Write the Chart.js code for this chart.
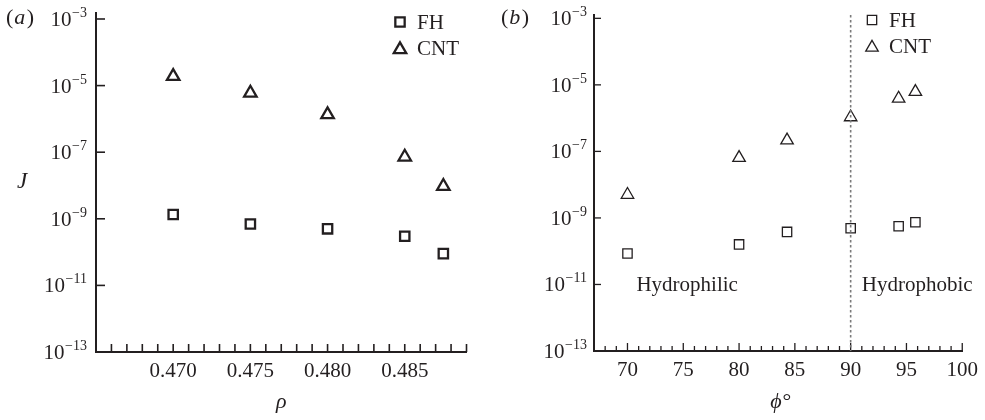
<!DOCTYPE html>
<html>
<head>
<meta charset="utf-8">
<script src="https://cdn.jsdelivr.net/npm/chart.js@4.4.0/dist/chart.umd.min.js"></script>
<style>
html,body{margin:0;padding:0;background:#ffffff;}
#wrap{position:relative;width:985px;height:420px;overflow:hidden;}
#ca{position:absolute;left:0;top:0;}
#cb{position:absolute;left:490px;top:0;}
</style>
</head>
<body>
<div id="wrap">
<canvas id="ca" width="490" height="420"></canvas>
<canvas id="cb" width="495" height="420"></canvas>
</div>
<script>
// ---------- data ----------
const seriesLabels = ['FH', 'CNT'];
// panel (a): J versus rho
const rhoValues = [0.470, 0.475, 0.480, 0.485, 0.4875];
const fhByRho   = [1.35e-9, 7.0e-10, 5.0e-10, 3.0e-10, 9.0e-11];
const cntByRho  = [1.9e-5, 6.0e-6, 1.35e-6, 7.2e-8, 9.5e-9];
const rhoTickLabels = [0.470, 0.475, 0.480, 0.485];
// panel (b): J versus phi (degrees)
const phiValues = [70, 80, 84.3, 90, 94.3, 95.8];
const fhByPhi   = [8.5e-11, 1.6e-10, 3.8e-10, 4.9e-10, 5.6e-10, 7.4e-10];
const cntByPhi  = [5.0e-9, 6.4e-8, 2.15e-7, 1.07e-6, 3.9e-6, 6.2e-6];
const phiTickLabels = [70, 75, 80, 85, 90, 95, 100];
const phiBoundary = 90;
const yTickExponents = [-3, -5, -7, -9, -11, -13];
const regionLabels = ['Hydrophilic', 'Hydrophobic'];

// ---------- style ----------
const SERIF = '"Liberation Serif", "Times New Roman", Times, serif';
const INK = '#231f20';

function toPoints(xs, ys) { return xs.map((x, i) => ({x: x, y: ys[i]})); }

function markerPath(ctx, style, x, y, r) {
  ctx.beginPath();
  if (style === 'rect') {
    const s = Math.SQRT1_2 * r;
    ctx.rect(x - s, y - s, 2 * s, 2 * s);
  } else {
    ctx.moveTo(x, y - r);
    ctx.lineTo(x + r * Math.sin(2 * Math.PI / 3), y - r * Math.cos(2 * Math.PI / 3));
    ctx.lineTo(x + r * Math.sin(4 * Math.PI / 3), y - r * Math.cos(4 * Math.PI / 3));
    ctx.closePath();
  }
}

const panelPlugin = {
  id: 'panel',
  afterDraw(chart, args, o) {
    const ctx = chart.ctx;
    const ca = chart.chartArea;
    const x = chart.scales.x, y = chart.scales.y;
    ctx.save();
    ctx.strokeStyle = INK;
    ctx.fillStyle = INK;
    ctx.lineWidth = o.tickWidth;
    // y decade ticks (inward) + labels 10^e
    yTickExponents.forEach(e => {
      const py = y.getPixelForValue(Math.pow(10, e));
      if (py > ca.top - 1 && py < ca.bottom - 1) {
        ctx.beginPath();
        ctx.moveTo(ca.left, py);
        ctx.lineTo(ca.left + o.yTickLen, py);
        ctx.stroke();
      }
      const expStr = '\u2212' + Math.abs(e);
      ctx.textAlign = 'right';
      ctx.textBaseline = 'alphabetic';
      ctx.font = '14px ' + SERIF;
      const ew = ctx.measureText(expStr).width;
      ctx.fillText(expStr, o.labelRight, py - 2);
      ctx.font = '21px ' + SERIF;
      ctx.fillText('10', o.labelRight - ew - 0.5, py + 7);
    });
    // x ticks (inward)
    for (let v = o.xTickStart; v <= o.xTickEnd + o.xTickStep / 2; v += o.xTickStep) {
      const px = x.getPixelForValue(v);
      const isMajor = o.xMajor.some(m => Math.abs(m - v) < o.xTickStep / 10);
      const len = isMajor ? o.xMajorLen : o.xMinorLen;
      ctx.beginPath();
      ctx.moveTo(px, ca.bottom);
      ctx.lineTo(px, ca.bottom - len);
      ctx.stroke();
    }
    // boundary line
    if (o.boundary !== undefined) {
      const bx = x.getPixelForValue(o.boundary);
      ctx.save();
      ctx.strokeStyle = '#7a7a7a';
      ctx.lineWidth = 1.6;
      ctx.setLineDash([2.5, 2.5]);
      ctx.beginPath();
      ctx.moveTo(bx, ca.top);
      ctx.lineTo(bx, ca.bottom);
      ctx.stroke();
      ctx.restore();
    }
    // legend
    chart.data.datasets.forEach((ds, i) => {
      const ly = o.legendY + i * o.legendGap;
      ctx.lineWidth = ds.borderWidth;
      markerPath(ctx, ds.pointStyle, o.legendX, ly + (ds.pointStyle === 'triangle' ? 1.5 : 0), ds.pointRadius);
      ctx.stroke();
      ctx.font = '21px ' + SERIF;
      ctx.textAlign = 'left';
      ctx.textBaseline = 'alphabetic';
      ctx.fillText(ds.label, o.legendX + 17, ly + 7);
    });
    // panel tag "(a)" / "(b)"
    ctx.textAlign = 'left';
    ctx.textBaseline = 'alphabetic';
    ctx.font = '22px ' + SERIF;
    let tx = o.tagX;
    ctx.fillText('(', tx, o.tagY); tx += ctx.measureText('(').width + 1;
    ctx.font = 'italic 22px ' + SERIF;
    ctx.fillText(o.tag, tx, o.tagY); tx += ctx.measureText(o.tag).width + 1.5;
    ctx.font = '22px ' + SERIF;
    ctx.fillText(')', tx, o.tagY);
    // axis titles
    if (o.yTitle) {
      ctx.font = 'italic 23px ' + SERIF;
      ctx.textAlign = 'left';
      ctx.fillText(o.yTitle, o.yTitleX, o.yTitleY);
    }
    ctx.font = 'italic 22px ' + SERIF;
    ctx.textAlign = 'center';
    ctx.fillText(o.xTitle, x.getPixelForValue(o.xTitleAt), o.xTitleY);
    // region labels
    (o.regions || []).forEach(rg => {
      ctx.font = '21px ' + SERIF;
      ctx.textAlign = 'left';
      ctx.fillText(rg.text, x.getPixelForValue(rg.at), y.getPixelForValue(rg.y));
    });
    ctx.restore();
  }
};

function makeDatasets(xs, fh, cnt, lw) {
  return [
    {label: seriesLabels[0], data: toPoints(xs, fh), pointStyle: 'rect', pointRadius: 6.6,
     pointHoverRadius: 6.6, borderColor: INK, backgroundColor: 'rgba(0,0,0,0)', borderWidth: lw, showLine: false},
    {label: seriesLabels[1], data: toPoints(xs, cnt), pointStyle: 'triangle', pointRadius: 7.2,
     pointHoverRadius: 7.2, borderColor: INK, backgroundColor: 'rgba(0,0,0,0)', borderWidth: lw, showLine: false}
  ];
}

function baseOptions(cfg) {
  return {
    responsive: false,
    animation: false,
    events: [],
    layout: {padding: {left: 0, top: cfg.top, right: cfg.right, bottom: 0}},
    plugins: {
      legend: {display: false},
      tooltip: {enabled: false},
      panel: cfg.panel
    },
    scales: {
      x: {
        type: 'linear', min: cfg.xmin, max: cfg.xmax,
        afterBuildTicks: s => { s.ticks = cfg.xLabels.map(v => ({value: v})); },
        afterFit: s => { s.height = cfg.xHeight; },
        grid: {display: false, drawTicks: false},
        border: {display: true, color: INK, width: 2},
        ticks: {font: {family: SERIF, size: 21}, color: INK, padding: 7,
                maxRotation: 0, autoSkip: false, callback: cfg.fmt}
      },
      y: {
        type: 'logarithmic', min: 1e-13, max: cfg.ymax,
        afterFit: s => { s.width = cfg.yWidth; },
        grid: {display: false},
        border: {display: true, color: INK, width: 2},
        ticks: {display: false}
      }
    }
  };
}

new Chart(document.getElementById('ca'), {
  type: 'scatter',
  data: {datasets: makeDatasets(rhoValues, fhByRho, cntByRho, 2.3)},
  options: baseOptions({
    top: 13, right: 23.5, xmin: 0.465, xmax: 0.489, xLabels: rhoTickLabels, xHeight: 68,
    yWidth: 96, ymax: Math.pow(10, -2.82), fmt: v => Number(v).toFixed(3),
    panel: {
      tickWidth: 1.6, yTickLen: 9, labelRight: 87,
      xTickStart: 0.466, xTickEnd: 0.489, xTickStep: 0.001, xMajor: [], xMajorLen: 8, xMinorLen: 8,
      legendX: 400, legendY: 22, legendGap: 26,
      tag: 'a', tagX: 6, tagY: 24,
      yTitle: 'J', yTitleX: 17, yTitleY: 188,
      xTitle: '\u03C1', xTitleAt: 0.477, xTitleY: 408
    }
  }),
  plugins: [panelPlugin]
});

new Chart(document.getElementById('cb'), {
  type: 'scatter',
  data: {datasets: makeDatasets(phiValues, fhByPhi, cntByPhi, 1.3)},
  options: baseOptions({
    top: 15, right: 20, xmin: 67, xmax: 100, xLabels: phiTickLabels, xHeight: 69,
    yWidth: 104, ymax: Math.pow(10, -2.9), fmt: v => String(v),
    panel: {
      tickWidth: 1.3, yTickLen: 7, labelRight: 97,
      xTickStart: 68, xTickEnd: 100, xTickStep: 1, xMajor: phiTickLabels, xMajorLen: 8, xMinorLen: 5,
      legendX: 382, legendY: 20, legendGap: 26,
      tag: 'b', tagX: 11, tagY: 24,
      boundary: phiBoundary,
      xTitle: '\u03D5\u00B0', xTitleAt: 83.7, xTitleY: 408,
      regions: [
        {text: regionLabels[0], at: 70.8, y: 6.5e-12},
        {text: regionLabels[1], at: 91.0, y: 6.5e-12}
      ]
    }
  }),
  plugins: [panelPlugin]
});
</script>
</body>
</html>
